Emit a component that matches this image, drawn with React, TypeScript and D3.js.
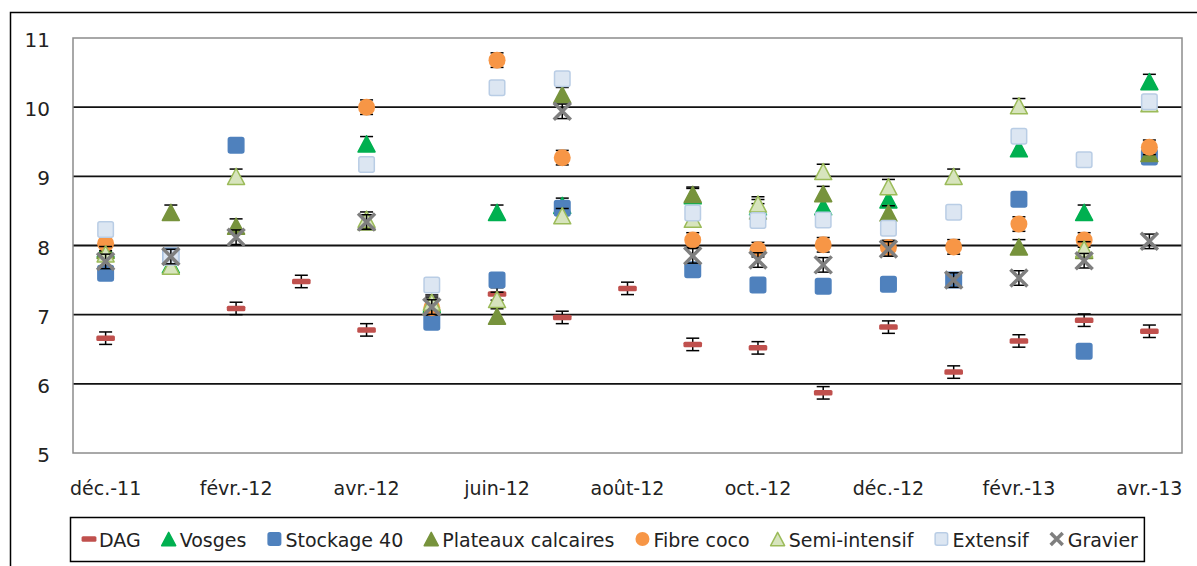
import React, { useEffect, useRef } from "react";
import * as d3 from "d3";

const months = ["déc.-11","janv.-12","févr.-12","mars-12","avr.-12","mai-12","juin-12","juil.-12","août-12","sept.-12","oct.-12","nov.-12","déc.-12","janv.-13","févr.-13","mars-13","avr.-13"];
const tickLabels = ["déc.-11","févr.-12","avr.-12","juin-12","août-12","oct.-12","déc.-12","févr.-13","avr.-13"];
const yTicks = [5, 6, 7, 8, 9, 10, 11];

const dag =      [6.66, null, 7.09, 7.48, 6.78, null, 7.30, 6.96, 7.38, 6.57, 6.52, 5.87, 6.82, 6.17, 6.62, 6.92, 6.76];
const vosges =   [7.95, 7.72, null, null, 9.47, 7.15, 8.48, 8.58, null, 8.72, 8.56, 8.56, 8.66, null, 9.40, 8.48, 10.37];
const stockage = [7.60, 7.85, 9.45, null, null, 6.89, 7.50, 8.54, null, 7.65, 7.43, 7.41, 7.44, 7.50, 8.67, 6.47, 9.28];
const plateaux = [7.93, 8.48, 8.28, null, 8.34, 7.12, 6.98, 10.18, null, 8.74, 8.50, 8.75, 8.47, null, 7.98, 7.93, 9.33];
const fibre =    [8.03, null, null, null, 10.0, 7.10, 10.68, 9.27, null, 8.08, 7.94, 8.01, 7.97, 7.98, 8.31, 8.08, 9.42];
const semi =     [7.88, 7.70, 9.00, null, 8.38, 7.18, 7.22, 8.43, null, 8.38, 8.60, 9.07, 8.85, 9.00, 10.02, 7.95, 10.05];
const extensif = [8.23, 7.83, null, null, 9.17, 7.43, 10.28, 10.41, null, 8.47, 8.36, 8.37, 8.25, 8.48, 9.58, 9.24, 10.08];
const gravier =  [7.77, 7.84, 8.12, null, 8.34, 7.11, null, 9.94, null, 7.85, 7.79, 7.72, 7.95, 7.50, 7.53, 7.78, 8.06];

const seriesNames = ["DAG","Vosges","Stockage 40","Plateaux calcaires","Fibre coco","Semi-intensif","Extensif","Gravier"];
const seriesValues = [dag, vosges, stockage, plateaux, fibre, semi, extensif, gravier];
const errorHalf = [0.09, 0.105, 0.1, 0.105, 0.105, 0.105, 0.1, 0.105];

type Style = { kind: string; fill: string; stroke: string };
const styles: Style[] = [
  { kind: "dash", fill: "#C0504D", stroke: "none" },
  { kind: "tri", fill: "#00B050", stroke: "#00B050" },
  { kind: "sq", fill: "#4F81BD", stroke: "#4F81BD" },
  { kind: "tri", fill: "#77933C", stroke: "#77933C" },
  { kind: "circ", fill: "#F79646", stroke: "#F79646" },
  { kind: "tri", fill: "#D7E4BD", stroke: "#9BBB59" },
  { kind: "sq", fill: "#DCE6F2", stroke: "#B9CDE5" },
  { kind: "x", fill: "none", stroke: "#7F7F7F" },
];

const FONT = "'DejaVu Sans', sans-serif";

function drawMarker(g: any, st: Style, cx: number, cy: number, s: number) {
  if (st.kind === "dash") {
    g.append("rect").attr("x", cx - s * 0.62).attr("y", cy - 2.75).attr("width", s * 1.24).attr("height", 5.5)
      .attr("rx", 1.5).attr("fill", st.fill);
  } else if (st.kind === "tri") {
    const h = s * 0.95;
    g.append("path").attr("d", `M${cx},${cy - h / 2}L${cx + s / 2},${cy + h / 2}L${cx - s / 2},${cy + h / 2}Z`)
      .attr("fill", st.fill).attr("stroke", st.stroke).attr("stroke-width", 1.5).attr("stroke-linejoin", "round");
  } else if (st.kind === "sq") {
    g.append("rect").attr("x", cx - s / 2 + 0.75).attr("y", cy - s / 2 + 0.75).attr("width", s - 1.5).attr("height", s - 1.5)
      .attr("rx", 2).attr("fill", st.fill).attr("stroke", st.stroke).attr("stroke-width", 1.5);
  } else if (st.kind === "circ") {
    g.append("circle").attr("cx", cx).attr("cy", cy).attr("r", s / 2).attr("fill", st.fill);
  } else if (st.kind === "x") {
    const r = s / 2;
    g.append("path").attr("d", `M${cx - r},${cy - r}L${cx + r},${cy + r}M${cx + r},${cy - r}L${cx - r},${cy + r}`)
      .attr("stroke", st.stroke).attr("stroke-width", 3.5).attr("fill", "none");
  }
}

export default function App() {
  const ref = useRef<SVGSVGElement>(null);
  useEffect(() => {
    const svg = d3.select(ref.current);
    svg.selectAll("*").remove();
    const left = 73, right = 1182, top = 38, bottom = 453;

    // outer frame
    svg.append("rect").attr("x", 10.5).attr("y", 12.5).attr("width", 1250).attr("height", 700)
      .attr("fill", "white").attr("stroke", "#000").attr("stroke-width", 1.5);

    const x = d3.scalePoint<string>().domain(months).range([left, right]).padding(0.5);
    const y = d3.scaleLinear().domain([5, 11]).range([bottom, top]);

    // gridlines
    svg.append("g").selectAll("line").data(yTicks.filter(t => t > 5 && t < 11)).join("line")
      .attr("x1", left).attr("x2", right).attr("y1", d => y(d)).attr("y2", d => y(d))
      .attr("stroke", "#111").attr("stroke-width", 1.8);
    // plot border
    svg.append("rect").attr("x", left).attr("y", top).attr("width", right - left).attr("height", bottom - top)
      .attr("fill", "none").attr("stroke", "#8c8c8c").attr("stroke-width", 1.5);

    // y labels
    svg.append("g").selectAll("text").data(yTicks).join("text")
      .attr("x", 50).attr("y", d => y(d) + 2).attr("text-anchor", "end").attr("dominant-baseline", "central")
      .attr("font-family", FONT).attr("font-size", 20).attr("fill", "#222").text(d => String(d));

    // x labels
    svg.append("g").selectAll("text").data(tickLabels).join("text")
      .attr("x", d => x(d) as number).attr("y", 488).attr("text-anchor", "middle").attr("dominant-baseline", "central")
      .attr("font-family", FONT).attr("font-size", 19).attr("fill", "#222").text(d => d);

    // series
    seriesValues.forEach((vals, si) => {
      const st = styles[si];
      const g = svg.append("g");
      const e = errorHalf[si];
      vals.forEach((v, i) => {
        if (v == null) return;
        const cx = x(months[i]) as number;
        const cy = y(v);
        const capW = 6.5;
        const eb = g.append("g").attr("stroke", "#000").attr("stroke-width", 1.5);
        eb.append("line").attr("x1", cx).attr("x2", cx).attr("y1", y(v + e)).attr("y2", y(v - e));
        eb.append("line").attr("x1", cx - capW).attr("x2", cx + capW).attr("y1", y(v + e)).attr("y2", y(v + e));
        eb.append("line").attr("x1", cx - capW).attr("x2", cx + capW).attr("y1", y(v - e)).attr("y2", y(v - e));
        drawMarker(g, st, cx, cy, st.kind === "dash" ? 15 : 17);
      });
    });

    // legend
    const lg = svg.append("g");
    const lx0 = 70, ly0 = 517, lh = 44;
    const cy = ly0 + lh / 2;
    let cur = lx0 + 13;
    const items = lg.append("g");
    seriesNames.forEach((name, si) => {
      const st = styles[si];
      const ms = st.kind === "dash" ? 12 : 14;
      drawMarker(items, st, cur + ms / 2, cy, st.kind === "x" ? 12 : ms);
      const t = items.append("text").attr("x", cur + ms + 4).attr("y", cy + 1).attr("dominant-baseline", "central")
        .attr("font-family", FONT).attr("font-size", 19).attr("fill", "#222").text(name);
      const w = (t.node() as SVGTextElement).getComputedTextLength();
      cur += ms + 4 + w + (si < seriesNames.length - 1 ? 21 : 6);
    });
    lg.insert("rect", ":first-child").attr("x", lx0 + 0.5).attr("y", ly0 + 0.5).attr("width", cur - lx0).attr("height", lh)
      .attr("fill", "white").attr("stroke", "#000").attr("stroke-width", 1.5);
  }, []);
  return (
    <svg ref={ref} width={1197} height={566} style={{ position: "absolute", left: 0, top: 0, background: "white" }} />
  );
}
